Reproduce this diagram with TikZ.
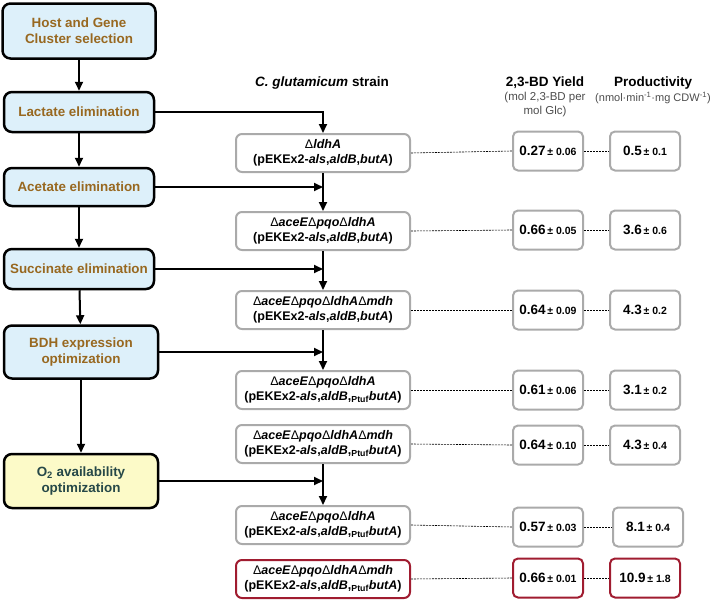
\documentclass[tikz,border=0pt]{standalone}
\usepackage{fontspec}
\setmainfont{Liberation Sans}
\usetikzlibrary{arrows.meta, positioning}
\definecolor{stagefill}{RGB}{221,240,250}
\definecolor{stagetext}{RGB}{152,104,32}
\definecolor{otwofill}{RGB}{252,250,200}
\definecolor{otwotext}{RGB}{38,72,72}
\definecolor{boxgrey}{RGB}{170,170,170}
\definecolor{bestred}{RGB}{160,28,48}
\newcommand{\dl}{{\mdseries\upshape Δ}}
\newcommand{\val}[2]{{\fontsize{13.5}{15}\selectfont #1}\,{\fontsize{10.5}{12}\selectfont ± #2}}
\newcommand{\plasmid}{(pEKEx2-\textit{als},\textit{aldB},\textit{butA})}
\newcommand{\plasmidP}{(pEKEx2-\textit{als},\textit{aldB},\textsubscript{\upshape Ptuf}\textit{butA})}

\begin{document}
\begin{tikzpicture}[x=1pt, y=-1pt,
    stage/.style={rectangle, rounded corners=8pt, draw=black, line width=2.5pt, fill=stagefill, text=stagetext, font=\fontsize{13.4}{16}\selectfont\bfseries, align=center, minimum width=150pt, minimum height=40pt, inner sep=2pt},
    strain/.style={rectangle, rounded corners=6pt, draw=boxgrey, line width=2pt, fill=white, font=\fontsize{12.5}{14.5}\selectfont\bfseries, align=center, minimum width=174pt, minimum height=38pt, inner sep=1pt},
    valbox/.style={rectangle, rounded corners=5pt, draw=boxgrey, line width=2pt, fill=white, font=\bfseries, minimum width=70pt, minimum height=39pt, inner sep=1pt},
    best/.style={draw=bestred},
    arrow/.style={-{Triangle[width=8pt,length=9pt]}, line width=2pt},
    link/.style={line width=0.6pt, dash pattern=on 2pt off 1pt},
    head/.style={font=\fontsize{13.5}{15}\selectfont\bfseries},
    unit/.style={font=\fontsize{11.5}{14}\selectfont, align=center, text=black!70}
]
    \useasboundingbox (0,0) rectangle (712,600);

    % Stages
    \node[stage, minimum width=153pt, minimum height=55pt] (host) at (79,31) {Host and Gene\\Cluster selection};
    \node[stage] (lact) at (79,112) {Lactate elimination};
    \node[stage, minimum height=38pt] (acet) at (79,187) {Acetate elimination};
    \node[stage] (succ) at (79,269) {Succinate elimination};
    \node[stage, minimum width=154pt, minimum height=53pt] (bdh) at (81,352) {BDH expression\\optimization};
    \node[stage, minimum width=154pt, minimum height=54pt, fill=otwofill, text=otwotext] (otwo) at (81,481) {O\textsubscript{2} availability\\optimization};

    % Headers
    \node[head] (hstrain) at (322,83) {\textit{C. glutamicum} strain};
    \node[head] (hyield) at (545,83) {2,3-BD Yield};
    \node[unit] (uyield) at (545,105) {(mol 2,3-BD per\\mol Glc)};
    \node[head] (hprod) at (653,83) {Productivity};
    \node[unit, font=\fontsize{11}{13}\selectfont] (uprod) at (653,98) {(nmol·min\textsuperscript{-1}·mg CDW\textsuperscript{-1})};

    % Strains
    \node[strain] (s1) at (323,153) {\dl\textit{ldhA}\\\plasmid};
    \node[strain] (s2) at (323,231) {\dl\textit{aceE}\dl\textit{pqo}\dl\textit{ldhA}\\\plasmid};
    \node[strain] (s3) at (323,310) {\dl\textit{aceE}\dl\textit{pqo}\dl\textit{ldhA}\dl\textit{mdh}\\\plasmid};
    \node[strain] (s4) at (323,390) {\dl\textit{aceE}\dl\textit{pqo}\dl\textit{ldhA}\\\plasmidP};
    \node[strain] (s5) at (323,444) {\dl\textit{aceE}\dl\textit{pqo}\dl\textit{ldhA}\dl\textit{mdh}\\\plasmidP};
    \node[strain] (s6) at (323,525) {\dl\textit{aceE}\dl\textit{pqo}\dl\textit{ldhA}\\\plasmidP};
    \node[strain, best] (s7) at (323,579) {\dl\textit{aceE}\dl\textit{pqo}\dl\textit{ldhA}\dl\textit{mdh}\\\plasmidP};

    % Yields
    \node[valbox] (y1) at (548,151) {\val{0.27}{0.06}};
    \node[valbox] (y2) at (548,230) {\val{0.66}{0.05}};
    \node[valbox] (y3) at (548,310) {\val{0.64}{0.09}};
    \node[valbox] (y4) at (548,390) {\val{0.61}{0.06}};
    \node[valbox] (y5) at (548,445) {\val{0.64}{0.10}};
    \node[valbox] (y6) at (548,527) {\val{0.57}{0.03}};
    \node[valbox, best] (y7) at (548,578) {\val{0.66}{0.01}};

    % Productivities
    \node[valbox] (p1) at (645,151) {\val{0.5}{0.1}};
    \node[valbox] (p2) at (645,230) {\val{3.6}{0.6}};
    \node[valbox] (p3) at (645,310) {\val{4.3}{0.2}};
    \node[valbox] (p4) at (645,390) {\val{3.1}{0.2}};
    \node[valbox] (p5) at (645,445) {\val{4.3}{0.4}};
    \node[valbox] (p6) at (648,527) {\val{8.1}{0.4}};
    \node[valbox, best] (p7) at (645,578) {\val{10.9}{1.8}};

    % Stage flow
    \draw[arrow] (host) -- (lact);
    \draw[arrow] (lact) -- (acet);
    \draw[arrow] (acet) -- (succ);
    \draw[arrow] (succ) -- (bdh);
    \draw[arrow] (bdh) -- (otwo);

    % Strain flow
    \draw[arrow] (lact.east) -| (s1.north);
    \draw[arrow] (s1) -- (s2);
    \draw[arrow] (acet.east) -- (acet.east -| s1.south);
    \draw[arrow] (s2) -- (s3);
    \draw[arrow] (succ.east) -- (succ.east -| s2.south);
    \draw[arrow] (s3) -- (s4);
    \draw[arrow] (bdh.east) -- (bdh.east -| s3.south);
    \draw[arrow] (s5) -- (s6);
    \draw[arrow] (otwo.east) -- (otwo.east -| s5.south);

    % Dotted links
    \foreach \i in {1,...,7} {
        \draw[link] (s\i.east) -- (y\i.west);
        \draw[link] (y\i.east) -- (p\i.west);
    }
\end{tikzpicture}
\end{document}
